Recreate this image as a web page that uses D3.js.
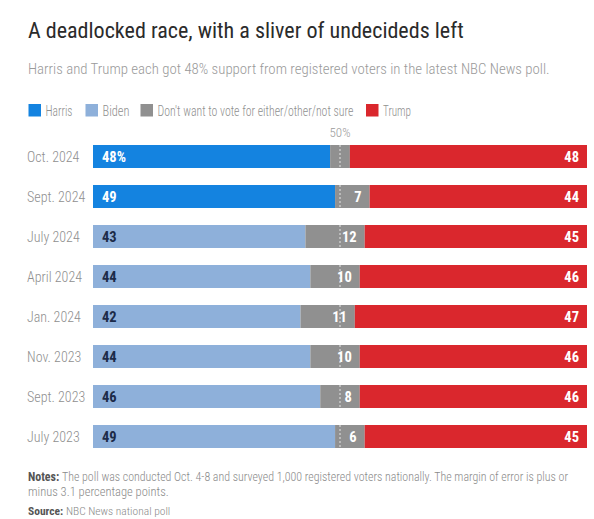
<!DOCTYPE html>
<html><head><meta charset="utf-8">
<script src="https://cdn.jsdelivr.net/npm/d3@7"></script>
<style>
body{margin:0;background:#fff;}
svg text{font-family:"Roboto Condensed","Liberation Sans Narrow","DejaVu Sans Condensed","Arial Narrow",sans-serif;font-stretch:condensed;}
</style></head>
<body><svg id="c" width="594" height="519"></svg>
<script>
const categories = ["Oct. 2024","Sept. 2024","July 2024","April 2024","Jan. 2024","Nov. 2023","Sept. 2023","July 2023"];
const demCandidate = ["Harris","Harris","Biden","Biden","Biden","Biden","Biden","Biden"];
const demValues = [48,49,43,44,42,44,46,49];
const otherValues = [4,7,12,10,11,10,8,6];
const trumpValues = [48,44,45,46,47,46,46,45];
const legendLabels = ["Harris","Biden","Don't want to vote for either/other/not sure","Trump"];
const colors = {Harris:"#1483e0", Biden:"#8eb0da", Other:"#909090", Trump:"#da272d"};

const svg = d3.select("#c");
const x = d3.scaleLinear().domain([0,100]).range([93,587]);
const y = d3.scaleBand().domain(categories).range([136.5,456.5]).paddingInner(0.425).paddingOuter(0.2125);

// scale font-size so the text spans the target width
function fit(sel, w){ sel.each(function(){ const t=d3.select(this); const L=this.getComputedTextLength(); const fs=+t.attr("font-size"); if(L>0 && Math.abs(L-w)>1.5){ t.attr("font-size",(fs*w/L).toFixed(2)); } }); }

svg.append("text").attr("x",28).attr("y",38).attr("font-size",27).attr("fill","#2b2b2b")
  .text("A deadlocked race, with a sliver of undecideds left").call(fit,436);
svg.append("text").attr("x",28).attr("y",74).attr("font-size",17).attr("fill","#9a9a9a").attr("font-weight",300)
  .text("Harris and Trump each got 48% support from registered voters in the latest NBC News poll.").call(fit,522);

// legend
const legX = [28.5,85.5,140.5,366];
const legW = [27,27,196,28];
const legC = [colors.Harris,colors.Biden,colors.Other,colors.Trump];
legendLabels.forEach((l,i)=>{
  svg.append("rect").attr("x",legX[i]).attr("y",104).attr("width",12.5).attr("height",12.5).attr("fill",legC[i]);
  const t = svg.append("text").attr("x",0).attr("y",0).attr("font-size",14).attr("fill","#8f8f8f").attr("font-weight",300).text(l);
  const L = t.node().getComputedTextLength();
  const sx = L > legW[i] ? legW[i]/L : 1;
  t.attr("transform",`translate(${legX[i]+17},115.5) scale(${sx},1)`);
});

// rows
const rows = categories.map((c,i)=>({cat:c, cand:demCandidate[i], dem:demValues[i], oth:otherValues[i], tr:trumpValues[i], i}));

svg.append("g").selectAll("text").data(rows).join("text")
  .attr("x",27).attr("y",d=>y(d.cat)+y.bandwidth()/2+5).attr("font-size",14).attr("fill","#8f8f8f").attr("font-weight",300)
  .text(d=>d.cat);

const g = svg.append("g");
g.selectAll("rect.dem").data(rows).join("rect").attr("class","dem")
  .attr("x",x(0)).attr("y",d=>y(d.cat)).attr("height",y.bandwidth())
  .attr("width",d=>x(d.dem)-x(0)).attr("fill",d=>colors[d.cand]);
g.selectAll("rect.oth").data(rows).join("rect").attr("class","oth")
  .attr("x",d=>x(d.dem)).attr("y",d=>y(d.cat)).attr("height",y.bandwidth())
  .attr("width",d=>x(d.dem+d.oth)-x(d.dem)).attr("fill",colors.Other);
g.selectAll("rect.tr").data(rows).join("rect").attr("class","tr")
  .attr("x",d=>x(d.dem+d.oth)).attr("y",d=>y(d.cat)).attr("height",y.bandwidth())
  .attr("width",d=>x(d.dem+d.oth+d.tr)-x(d.dem+d.oth)).attr("fill",colors.Trump);

// 50% line
rows.forEach(d=>{
  svg.append("line").attr("x1",x(50)).attr("x2",x(50)).attr("y1",y(d.cat)).attr("y2",y(d.cat)+y.bandwidth())
    .attr("stroke","#fff").attr("stroke-opacity",0.75).attr("stroke-dasharray","2,2").attr("stroke-width",1);
});
svg.append("text").attr("x",x(50)).attr("y",137).attr("text-anchor","middle").attr("font-size",13).attr("fill","#9a9a9a").attr("font-weight",300).text("50%");

const lab = svg.append("g").attr("font-weight",700).attr("font-size",14.5);
lab.selectAll("text.dl").data(rows).join("text").attr("class","dl")
  .attr("x",x(0)+9).attr("y",d=>y(d.cat)+y.bandwidth()/2+5.5)
  .attr("fill",d=>d.cand==="Harris"?"#fff":"#1c2b48")
  .text(d=>d.i===0?d.dem+"%":d.dem);
lab.selectAll("text.ol").data(rows.filter(d=>d.oth>=5)).join("text").attr("class","ol")
  .attr("x",d=>x(d.dem+d.oth)-8).attr("text-anchor","end").attr("y",d=>y(d.cat)+y.bandwidth()/2+5.5)
  .attr("fill","#fff").text(d=>d.oth);
lab.selectAll("text.tl").data(rows).join("text").attr("class","tl")
  .attr("x",x(100)-8).attr("text-anchor","end").attr("y",d=>y(d.cat)+y.bandwidth()/2+5.5)
  .attr("fill","#fff").text(d=>d.tr);

// notes
const n1 = svg.append("text").attr("x",28).attr("y",481).attr("font-size",12.5).attr("fill","#8a8a8a");
n1.append("tspan").attr("font-weight",700).attr("fill","#555").text("Notes: ");
n1.append("tspan").attr("font-weight",300).text("The poll was conducted Oct. 4-8 and surveyed 1,000 registered voters nationally. The margin of error is plus or");
n1.call(fit,540);
svg.append("text").attr("x",28).attr("y",496).attr("font-size",12.5).attr("fill","#8a8a8a").attr("font-weight",300).text("minus 3.1 percentage points.");
const s1 = svg.append("text").attr("x",28).attr("y",515).attr("font-size",11.5).attr("fill","#8a8a8a");
s1.append("tspan").attr("font-weight",700).attr("fill","#555").text("Source: ");
s1.append("tspan").attr("font-weight",300).text("NBC News national poll");
</script></body></html>
